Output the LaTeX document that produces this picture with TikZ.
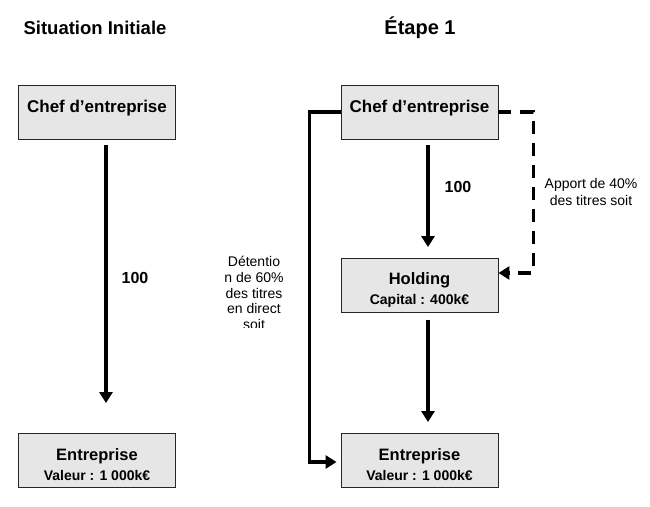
\documentclass[tikz,border=0pt]{standalone}
\usepackage{fontspec}
\setmainfont{Liberation Sans}
\usepackage{tikz}
\usetikzlibrary{arrows.meta}
\definecolor{boxgray}{HTML}{E6E6E6}

\begin{document}
\begin{tikzpicture}[x=1pt, y=-1pt,
	box/.style={rectangle, draw=black!85, line width=0.9pt, fill=boxgray, minimum width=157pt, minimum height=54pt, inner sep=0pt, align=center, font=\bfseries\fontsize{16.5}{19}\selectfont},
	onebox/.style={box, font=\bfseries\fontsize{17}{19}\selectfont, text height=0pt, text depth=0pt},
	conn/.style={line width=3.5pt, -{Triangle[width=13pt,length=11pt]}},
	lbl/.style={font=\bfseries\fontsize{16}{19}\selectfont},
	note/.style={align=center, font=\fontsize{14}{16.5}\selectfont}]
	\useasboundingbox (0,0) rectangle (650,506);
	% Titles
	\node[font=\bfseries\fontsize{18.5}{22}\selectfont] (t1) at (95,28) {Situation Initiale};
	\node[font=\bfseries\fontsize{20}{22}\selectfont] (t2) at (420,28) {Étape 1};
	% Nodes
	\node[onebox] (chef1) at (97,112) {Chef d’entreprise};
	\node[box] (ent1) at (97,460.5) {\rule{0pt}{21pt}Entreprise\\[1pt]{\fontsize{14}{16}\selectfont Valeur : 1 000k€}};
	\node[onebox] (chef2) at (419.5,112) {Chef d’entreprise};
	\node[box] (hold) at (419.5,285.5) {\rule{0pt}{21pt}Holding\\[1pt]{\fontsize{14}{16}\selectfont Capital : 400k€}};
	\node[box] (ent2) at (419.5,460.5) {\rule{0pt}{21pt}Entreprise\\[1pt]{\fontsize{14}{16}\selectfont Valeur : 1 000k€}};
	% Edges
	\draw[conn, shorten <=6pt, shorten >=30pt] ([xshift=9pt]chef1.south) -- ([xshift=9pt]ent1.north);
	\node[lbl] (v1) at (135,278) {100};
	\draw[conn, shorten <=6pt, shorten >=11pt] ([xshift=8.5pt]chef2.south) -- ([xshift=8.5pt]hold.north);
	\node[lbl] (v2) at (458,187) {100};
	\draw[conn, shorten <=7pt, shorten >=11pt] ([xshift=8.5pt]hold.south) -- ([xshift=8.5pt]ent2.north);
	\draw[conn, shorten >=4pt] (chef2.west) -- ++(-31,0) |- ([yshift=-1.5pt]ent2.west);
	\draw[conn, dash pattern=on 13pt off 9pt] (chef2.east) -- ++(35,0) |- ([yshift=12.5pt]hold.east);
	\node[note] (apport) at (591,192) {Apport de 40\%\\des titres soit};
	\begin{scope}
		\clip (200,240) rectangle (305,327);
		\node[note, font=\fontsize{14}{15.7}\selectfont, anchor=north] (detention) at (254,253) {Détentio\\n de 60\%\\des titres\\en direct\\soit};
	\end{scope}
\end{tikzpicture}
\end{document}
